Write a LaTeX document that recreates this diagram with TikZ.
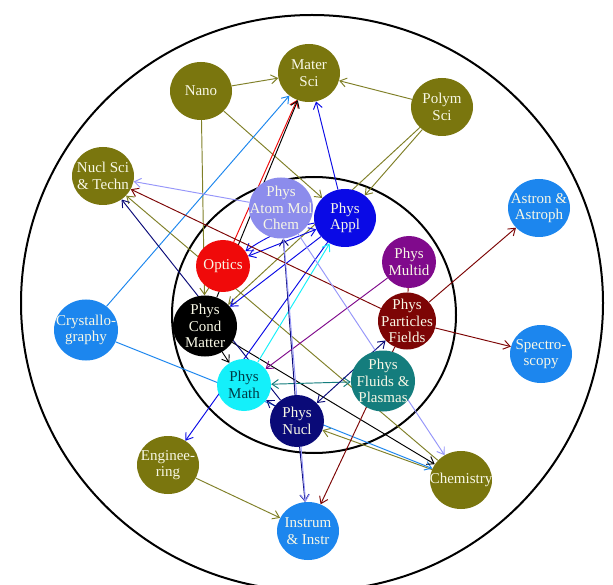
\documentclass[tikz,border=0pt]{standalone}
\usepackage{fontspec}
\setmainfont{Liberation Serif}
\usetikzlibrary{shapes.geometric,arrows.meta,backgrounds}
\definecolor{cOlive}{RGB}{122,118,14}
\definecolor{eOlive}{RGB}{128,128,40}
\definecolor{cDodger}{RGB}{28,134,238}
\definecolor{cLav}{RGB}{140,140,236}
\definecolor{eLav}{RGB}{150,150,250}
\definecolor{cAppl}{RGB}{10,10,230}
\definecolor{cRed}{RGB}{240,10,10}
\definecolor{cPurp}{RGB}{128,10,140}
\definecolor{cMaroon}{RGB}{125,5,5}
\definecolor{cCyan}{RGB}{20,240,250}
\definecolor{cTeal}{RGB}{20,125,125}
\definecolor{cNavy}{RGB}{10,10,120}
\definecolor{cText}{RGB}{248,248,230}
\definecolor{cMathText}{RGB}{0,60,70}
\newcommand\nodefont{\fontsize{15}{16.5}\selectfont}
\tikzset{
  bub/.style={ellipse, fill=#1, draw=none, inner sep=0pt, minimum width=62pt, minimum height=58pt},
  small/.style={minimum width=54pt, minimum height=52pt},
  big/.style={minimum width=64pt, minimum height=61pt},
  lbl/.style={text=#1, align=center, font=\nodefont, inner sep=0pt},
  lbl/.default=cText,
  ed/.style={draw=#1, line width=0.95pt, -{Straight Barb[length=6.5pt,width=9pt]}},
  edd/.style={draw=#1, line width=0.95pt, {Straight Barb[length=6.5pt,width=9pt]}-{Straight Barb[length=6.5pt,width=9pt]}},
  ring/.style={draw=black, line width=2pt}
}
\begin{document}
\begin{tikzpicture}[x=1pt,y=-1pt]
\useasboundingbox (0,0) rectangle (613,585);
% nodes
\node[bub=cOlive] (matsci) at (309,73) {};
\node[bub=cOlive] (nano) at (201,91) {};
\node[bub=cOlive] (polym) at (442,107) {};
\node[bub=cOlive] (nuclsci) at (103,176) {};
\node[bub=cDodger] (astron) at (539,208) {};
\node[bub=cLav,big] (atom) at (281,208) {};
\node[bub=cAppl] (appl) at (345,218) {};
\node[bub=cRed,small] (optics) at (223,266) {};
\node[bub=cPurp,small] (multid) at (409,262) {};
\node[bub=black,big] (cond) at (205,326) {};
\node[bub=cDodger,big] (cryst) at (86,330) {};
\node[bub=cMaroon,minimum width=58pt,minimum height=57pt] (part) at (407,321) {};
\node[bub=cDodger] (spec) at (541,354) {};
\node[bub=cCyan,small] (math) at (244,385) {};
\node[bub=cTeal,big] (fluids) at (383,381) {};
\node[bub=cNavy,small] (nucl) at (297,421) {};
\node[bub=cOlive] (eng) at (168,465) {};
\node[bub=cOlive] (chem) at (461,480) {};
\node[bub=cDodger] (instr) at (308,531) {};
% labels
\node[lbl] (matsci-t) at (matsci) {Mater\\Sci};
\node[lbl] (nano-t) at (nano) {Nano};
\node[lbl] (polym-t) at (polym) {Polym\\Sci};
\node[lbl] (nuclsci-t) at (nuclsci) {Nucl Sci\\\&\ Techn};
\node[lbl] (astron-t) at (astron) {Astron \&\\Astroph};
\node[lbl] (atom-t) at (atom) {Phys\\Atom Mol\\Chem};
\node[lbl] (appl-t) at (appl) {Phys\\Appl};
\node[lbl] (optics-t) at (optics) {Optics};
\node[lbl] (multid-t) at (multid) {Phys\\Multid};
\node[lbl] (cond-t) at (cond) {Phys\\Cond\\Matter};
\node[lbl] (cryst-t) at (cryst) {Crystallo-\\graphy};
\node[lbl] (part-t) at (part) {Phys\\Particles\\Fields};
\node[lbl] (spec-t) at (spec) {Spectro-\\scopy};
\node[lbl=cMathText] (math-t) at (math) {Phys\\Math};
\node[lbl] (fluids-t) at (fluids) {Phys\\Fluids \&\\Plasmas};
\node[lbl] (nucl-t) at (nucl) {Phys\\Nucl};
\node[lbl] (eng-t) at (eng) {Enginee-\\ring};
\node[lbl] (chem-t) at (chem) {Chemistry};
\node[lbl] (instr-t) at (instr) {Instrum\\\&\ Instr};
\begin{pgfonlayer}{background}
\fill[white] (0,0) rectangle (613,585);
\draw[ring] (312,303) ellipse[x radius=291, y radius=288];
\draw[ring] (314,315) ellipse[x radius=142, y radius=138];
% olive
\draw[ed=eOlive] (nano) -- (matsci);
\draw[ed=eOlive] (polym) -- (matsci);
\draw[ed=eOlive] (nano) -- (appl);
\draw[ed=eOlive] (polym) -- (appl);
\draw[ed=eOlive] (polym) -- (cond);
\draw[ed=eOlive] (nano) -- (cond);
\draw[ed=eOlive] (chem) -- (nuclsci);
\draw[ed=eOlive] (chem) -- (nucl);
\draw[ed=eOlive] (eng) -- (instr);
% dodger blue
\draw[ed=cDodger] (cryst) -- (matsci);
\draw[ed=cDodger] (cryst) -- (chem);
% red
\draw[ed=cRed] (optics) -- (matsci);
% black
\draw[ed=black] (cond) -- (matsci);
\draw[ed=black] (cond) -- (chem);
\draw[ed=black] (cond) -- (math);
% blue
\draw[ed=cAppl] (appl) -- (matsci);
\draw[edd=cAppl] (optics) -- (appl);
\draw[ed=cAppl] (appl) to[bend right=12] (optics);
\draw[ed=cAppl] (appl) -- (cond);
\draw[ed=cAppl] (appl) -- (eng);
% cyan
\draw[ed=cCyan] (math) -- (appl);
% teal
\draw[edd=cTeal] (math) -- (fluids);
% navy
\draw[ed=cNavy] (nucl) -- (atom);
\draw[ed=cNavy] (nucl) -- (math);
\draw[edd=cNavy] (nucl) -- (part);
\draw[ed=cNavy] (nucl) -- (instr);
\draw[ed=cNavy] (nucl) -- (nuclsci);
% purple
\draw[ed=cPurp] (multid) -- (math);
% maroon
\draw[ed=cMaroon] (part) -- (nuclsci);
\draw[ed=cMaroon] (part) -- (astron);
\draw[ed=cMaroon] (part) -- (spec);
\draw[ed=cMaroon] (part) -- (instr);
\draw[draw=cMaroon, line width=0.95pt] (part) -- (multid);
% lavender
\draw[ed=eLav] (atom) -- (nuclsci);
\draw[ed=eLav] (atom) -- (instr);
\draw[ed=eLav] (atom) -- (chem);
\end{pgfonlayer}
\end{tikzpicture}
\end{document}
